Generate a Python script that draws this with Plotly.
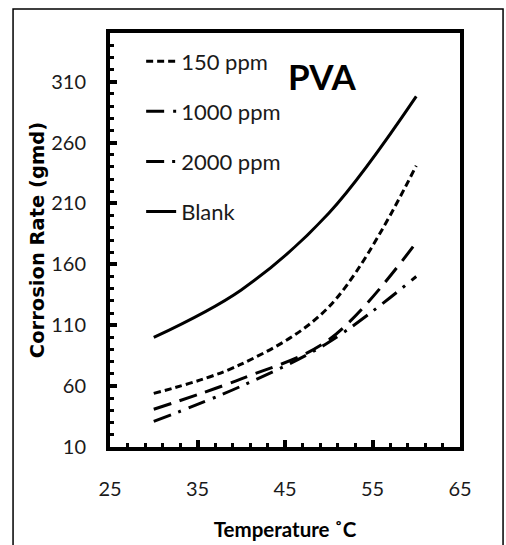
import plotly.graph_objects as go

temperature = [30, 40, 50, 60]
blank = [100, 139, 202, 298]
ppm150 = [54, 78, 125, 241]
ppm1000 = [41, 66, 98, 178]
ppm2000 = [31, 60, 96, 150]

series_names = ["150 ppm", "1000 ppm", "2000 ppm", "Blank"]
series_values = [ppm150, ppm1000, ppm2000, blank]
series_dash = ["7px,4px", "18px,9px", "18px,8px,3px,8px", "solid"]

NARROW = "Lato, Roboto, Liberation Sans, sans-serif"
WIDE_BOLD = "DejaVu Sans, Verdana, sans-serif"

fig = go.Figure()
for name, vals, dash in zip(series_names, series_values, series_dash):
    fig.add_trace(go.Scatter(
        x=temperature, y=vals, name=name, mode="lines",
        line=dict(color="black", width=3, dash=dash, shape="spline", smoothing=1),
        legendgroup=name,
    ))

fig.update_layout(
    width=506, height=545,
    margin=dict(l=110, r=46, t=33, b=98, autoexpand=False),
    paper_bgcolor="white", plot_bgcolor="white",
    font=dict(family=NARROW, color="#1a1a1a", size=20),
    showlegend=True,
    legend=dict(
        x=0.089, y=0.982, xanchor="left", yanchor="top",
        bgcolor="rgba(0,0,0,0)", borderwidth=0,
        font=dict(family=NARROW, size=22, color="#1a1a1a"),
        tracegroupgap=18.5, itemwidth=30,
    ),
    xaxis=dict(
        range=[25, 65], tick0=25, dtick=10, showgrid=False, zeroline=False,
        showline=True, linecolor="black", linewidth=4, mirror=True,
        ticks="inside", ticklen=7, tickwidth=4, tickcolor="black",
        minor=dict(ticks="inside", dtick=2, tick0=25, ticklen=4, tickwidth=3, tickcolor="black", showgrid=False),
        tickfont=dict(family=NARROW, size=20, color="#1a1a1a"),
        ticklabelstandoff=21, automargin=False,
        title=dict(text="Temperature ˚C", standoff=25,
                   font=dict(family=NARROW, size=20.5, color="black", weight="bold")),
    ),
    yaxis=dict(
        range=[10, 350], tick0=10, dtick=50, showgrid=False, zeroline=False,
        showline=True, linecolor="black", linewidth=4, mirror=True,
        ticks="inside", ticklen=7, tickwidth=4, tickcolor="black",
        minor=dict(ticks="inside", dtick=10, tick0=10, ticklen=4, tickwidth=3, tickcolor="black", showgrid=False),
        tickfont=dict(family=NARROW, size=20, color="#1a1a1a"),
        ticklabelstandoff=16, automargin=False,
        title=dict(text="Corrosion Rate (gmd)", standoff=2,
                   font=dict(family=WIDE_BOLD, size=19.5, color="black", weight="bold")),
    ),
    annotations=[dict(
        text="<b>PVA</b>", xref="paper", yref="paper", x=0.607, y=0.897,
        xanchor="center", yanchor="middle", showarrow=False,
        font=dict(family=NARROW, size=35, color="black"),
    )],
    shapes=[dict(
        type="rect", xref="paper", yref="paper",
        x0=-0.277, x1=1.123, y0=-0.3, y1=1.058,
        line=dict(color="black", width=1.5), fillcolor="rgba(0,0,0,0)", layer="below",
    )],
)

fig.write_html("out.html")
